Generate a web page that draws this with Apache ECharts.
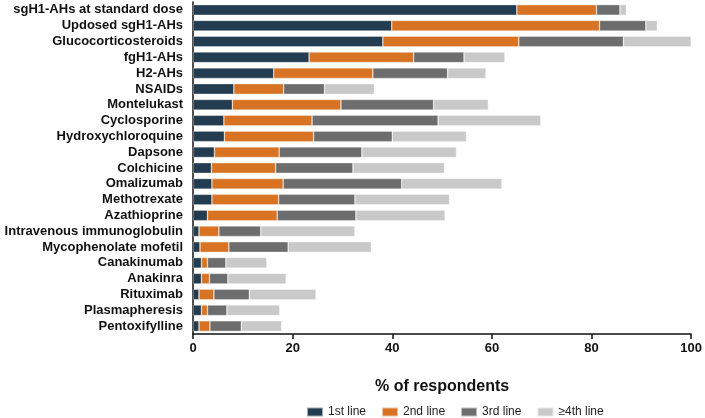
<!DOCTYPE html>
<html>
<head>
<meta charset="utf-8">
<script src="https://cdn.jsdelivr.net/npm/echarts@6/dist/echarts.min.js"></script>
<style>
html,body{margin:0;padding:0;background:#fff;}
#chart{width:705px;height:418px;}
</style>
</head>
<body>
<div id="chart"></div>
<script>
const categories = [
  "sgH1-AHs at standard dose","Updosed sgH1-AHs","Glucocorticosteroids","fgH1-AHs","H2-AHs",
  "NSAIDs","Montelukast","Cyclosporine","Hydroxychloroquine","Dapsone","Colchicine",
  "Omalizumab","Methotrexate","Azathioprine","Intravenous immunoglobulin","Mycophenolate mofetil",
  "Canakinumab","Anakinra","Rituximab","Plasmapheresis","Pentoxifylline"
];
const line1 = [65.0,39.9,38.1,23.3,16.2,8.2,7.9,6.2,6.3,4.3,3.7,3.8,3.8,2.9,1.2,1.4,1.7,1.7,1.2,1.7,1.2];
const line2 = [16.0,41.7,27.3,21.0,19.9,10.0,21.8,17.7,17.9,13.0,12.9,14.3,13.4,14.0,4.0,5.8,1.2,1.6,3.0,1.2,2.2];
const line3 = [4.7,9.3,21.0,10.1,15.0,8.2,18.6,25.3,15.8,16.6,15.5,23.8,15.3,15.8,8.4,11.9,3.7,3.7,7.1,3.9,6.3];
const line4 = [1.3,2.3,13.6,8.2,7.7,10.0,11.0,20.6,14.9,19.0,18.4,20.1,19.0,17.9,18.9,16.7,8.2,11.7,13.4,10.6,8.1];
const seriesNames = ["1st line","2nd line","3rd line","\u22654th line"];
const xTicks = [0,20,40,60,80,100];

const colors = ["#243c4f","#d97324","#6d6d6d","#c9c9c9"];
const chart = echarts.init(document.getElementById('chart'), null, {renderer:'canvas'});
const mk = (name, data, i) => ({
  name, type:'bar', stack:'total', data, barCategoryGap:'33%',
  itemStyle:{color:colors[i], borderColor:'rgba(255,255,255,0.55)', borderWidth:0.6},
  emphasis:{disabled:true}
});
chart.setOption({
  animation:false,
  textStyle:{fontFamily:'Liberation Sans, Arial, sans-serif'},
  grid:{left:193, right:12, top:2, bottom:84, containLabel:false},
  legend:{
    data:seriesNames, top:401, left:301, itemWidth:16, itemHeight:9, itemGap:15,
    icon:'rect',
    textStyle:{fontSize:12, color:'#222', fontFamily:'Liberation Sans, Arial, sans-serif'}
  },
  xAxis:{
    type:'value', min:xTicks[0], max:xTicks[xTicks.length-1], interval:20,
    name:'% of respondents', nameLocation:'middle', nameGap:45,
    nameTextStyle:{fontSize:16, fontWeight:'bold', color:'#111'},
    axisLine:{show:true, lineStyle:{color:'#111', width:1.5}},
    axisTick:{show:true, length:5, lineStyle:{color:'#111', width:1.5}},
    axisLabel:{fontSize:13, fontWeight:'bold', color:'#111', margin:8},
    splitLine:{show:false}
  },
  yAxis:{
    type:'category', data:categories, inverse:true,
    axisLine:{show:true, lineStyle:{color:'#111', width:1.5}},
    axisTick:{show:false},
    axisLabel:{interval:0, fontSize:13, fontWeight:'bold', color:'#111', margin:10}
  },
  series:[mk(seriesNames[0],line1,0),mk(seriesNames[1],line2,1),mk(seriesNames[2],line3,2),mk(seriesNames[3],line4,3)]
});
</script>
</body>
</html>
